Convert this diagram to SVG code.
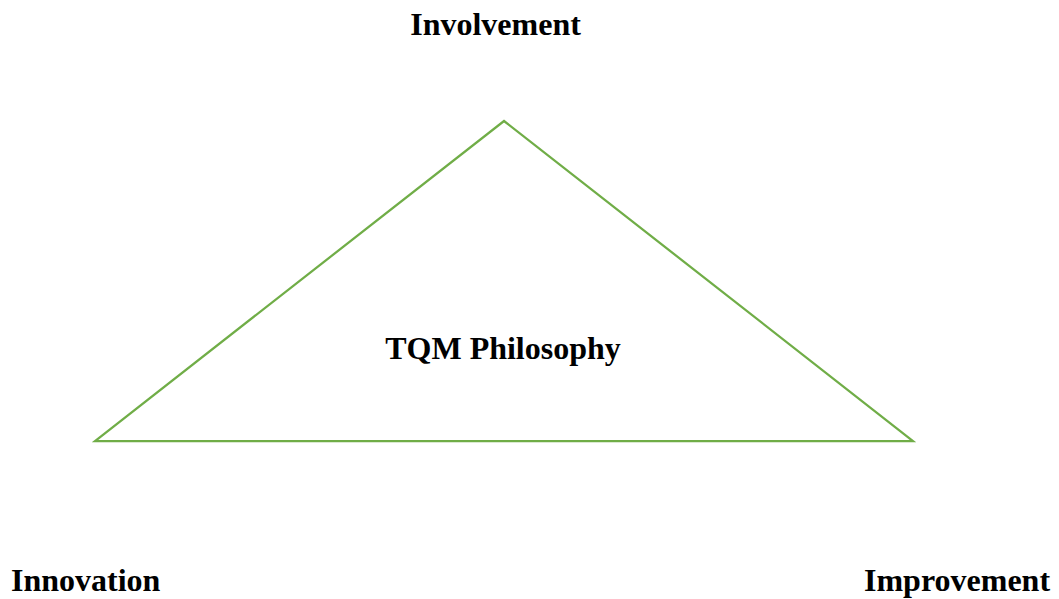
<svg xmlns="http://www.w3.org/2000/svg" width="1059" height="599" viewBox="0 0 1059 599">
  <style>
    .label { font-family: "Liberation Serif", "Times New Roman", serif; font-weight: bold; font-size: 32px; fill: #000; }
    .tri { fill: none; stroke: #70AD47; stroke-width: 2.25; stroke-linejoin: miter; }
  </style>
  <rect width="1059" height="599" fill="#fff"/>
  <g id="philosophy">
    <polygon class="tri" points="504,121 913,441 95,441"/>
    <text class="label" x="503" y="359" text-anchor="middle">TQM Philosophy</text>
  </g>
  <g id="involvement">
    <text class="label" x="495.5" y="35" text-anchor="middle">Involvement</text>
  </g>
  <g id="innovation">
    <text class="label" x="11" y="591">Innovation</text>
  </g>
  <g id="improvement">
    <text class="label" x="864" y="591">Improvement</text>
  </g>
  <g id="connectors"/>
</svg>
